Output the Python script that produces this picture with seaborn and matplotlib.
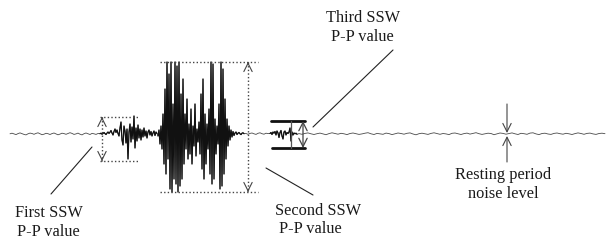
import numpy as np
import pandas as pd
import matplotlib
matplotlib.use("Agg")
import matplotlib.pyplot as plt
import seaborn as sns

# ---------------- data (amplitude, arbitrary units; sampled segments) ----------------
rest1_start, rest1_step = 10, 2
rest1 = [0.2, 0.8, 0.1, -0.6, 0.4, 1.1, 0.3, -0.4, -0.9, 0.2,
         0.9, 0.5, -0.3, 0.6, 1.2, 0.2, -0.7, -0.2, 0.7, 0.3,
         -0.5, 0.4, 1.0, 0.1, -0.8, -0.1, 0.8, 0.4, -0.3, 0.5,
         1.3, 0.6, -0.4, 0.1, 0.9, -0.2, -0.9, 0.3, 1.0, 0.2,
         -0.5, 0.6, 0.2, -0.4, 0.5]

ssw1_start, ssw1_step = 100, 1
ssw1 = [0.3, 0.8, -0.2, 0.5, 1.5, 0.4, -0.5, 0.9, 2.0, 0.6,
        1.8, 3.5, 1.0, -1.0, 2.5, 5.0, 1.5, 4.0, 0.5, -2.0,
        6.0, 12.0, -6.0, -11.0, 8.0, 3.0, -9.0, 5.0, -25.0, 2.0,
        10.0, -8.0, 7.0, -5.0, 18.0, -14.0, 6.0, -7.0, 9.0, -4.0,
        5.0, -6.0, 4.0, -3.0, 6.0, -2.0, 3.0, -4.0, 2.0, 4.0,
        -1.0, 2.5, -2.0, 1.0, 3.0, -1.5, 2.0, 0.5]

ssw2_start, ssw2_step = 158, 1
ssw2 = [-2, 4, -10, 8, -15, 20, -30, 45, -40, 72,
        -25, 60, -55, 72, -58, 30, -45, 72, -50, 68,
        -58, 72, -52, 40, -45, 55, -30, 20, -15, 35,
        -25, 10, -20, 25, -30, 8, -12, 30, -22, 5,
        -8, 12, -20, 40, -35, 55, -45, 20, -30, 10,
        -15, 25, -40, 72, -50, 70, -45, 15, -20, 8,
        -10, 30, -55, 72, -52, 65, -40, 35, -25, 15,
        -12, 8, -6, 4, -3, 2.5, -1.5, 1.0, 2.0, -0.5,
        0.8, 1.5, 0.2, -0.6, 0.8, 1.2, 0.3]

rest2a_start, rest2a_step = 246, 2
rest2a = [0.5, -0.3, 0.6, 1.0, 0.2, -0.4, 0.7, 1.2, 0.3, -0.2, 0.8, 0.4]

ssw3_start, ssw3_step = 270, 1
ssw3 = [0.5, 1.5, -0.5, 2.0, 0.8, 2.5, -1.0, 3.0, 1.0, -3.5,
        1.5, 3.5, -2.0, -5.0, 2.0, 3.0, -1.0, 1.5, 0.5, 2.0,
        6.0, -7.0, 2.0, -1.0, 1.0, 0.2, 0.8, -0.3]

rest2b_start, rest2b_step = 299, 3
rest2b = [0.4, -0.3, 0.6, 1.1, 0.2, -0.5, 0.3, 0.9, 0.1, -0.7,
          0.4, 1.2, 0.5, -0.2, 0.7, 0.2, -0.6, 0.5, 1.0, 0.3,
          -0.4, 0.1, 0.8, 1.3, 0.2, -0.5, 0.6, 0.1, -0.3, 0.9,
          0.4, -0.6, 0.2, 1.0, 0.5, -0.2, 0.7, 1.1, 0.0, -0.8,
          0.3, 0.8, 0.2, -0.4, 0.6, 1.2, 0.4, -0.3, 0.5, 0.1,
          -0.6, 0.7, 1.0, 0.2, -0.5, 0.4, 0.9, -0.1, 0.6, 1.3,
          0.3, -0.4, 0.2, 0.8, 0.5, -0.7, 0.1, 1.0, 0.6, -0.2,
          0.4, 1.1, 0.2, -0.5, 0.7, 0.3, -0.3, 0.9, 1.2, 0.1,
          -0.6, 0.5, 0.8, 0.0, -0.4, 0.6, 1.0, 0.3, -0.2, 0.7,
          0.2, -0.5, 0.4, 1.1, 0.5, -0.3, 0.6, 0.9, 0.1, -0.4,
          0.5, 0.8, 0.3]

labels = ["First SSW\nP-P value", "Second SSW\nP-P value",
          "Third SSW\nP-P value", "Resting period\nnoise level"]

segments = [("rest", rest1_start, rest1_step, rest1), ("ssw", ssw1_start, ssw1_step, ssw1),
            ("ssw", ssw2_start, ssw2_step, ssw2), ("rest", rest2a_start, rest2a_step, rest2a),
            ("ssw", ssw3_start, ssw3_step, ssw3), ("rest", rest2b_start, rest2b_step, rest2b)]
rows = []
for i, (kind, start, step, vals) in enumerate(segments):
    for t, v in zip(start + step * np.arange(len(vals)), vals):
        rows.append((t, v, kind, i))
df = pd.DataFrame(rows, columns=["time", "amplitude", "kind", "seg"])

# ---------------- figure ----------------
sns.set_theme(style="white")
plt.rcParams["font.family"] = ["Liberation Serif", "DejaVu Serif"]

fig = plt.figure(figsize=(6.11, 2.4), dpi=100)
ax = fig.add_axes([0, 0, 1, 1])
# full trace (thin grey), then bursts emphasised in black
sns.lineplot(data=df, x="time", y="amplitude", estimator=None, sort=False,
             color="#4a4a4a", lw=0.6, ax=ax)
burst = df[df["kind"] == "ssw"]
sns.lineplot(data=burst, x="time", y="amplitude", units="seg", estimator=None, sort=False,
             color="#111111", lw=0.9, ax=ax)
ax.set_xlim(0, 611)
ax.set_ylim(-106, 134)
ax.set_axis_off()

# overlay axes in pixel coordinates for annotations
an = fig.add_axes([0, 0, 1, 1])
an.set_xlim(0, 611)
an.set_ylim(240, 0)
an.set_axis_off()
an.patch.set_alpha(0)

dot = dict(color="#444444", lw=1.0, linestyle=(0, (1, 1.6)))
head = dict(arrowstyle="->,head_length=0.5,head_width=0.25", lw=0.8, color="#444444",
            shrinkA=0, shrinkB=0)


def dotted_arrow(x, y1, y2):
    an.plot([x, x], [y1, y2], **dot)
    an.annotate("", xy=(x, y1), xytext=(x, y1 + 1), arrowprops=head)
    an.annotate("", xy=(x, y2), xytext=(x, y2 - 1), arrowprops=head)


# First SSW
an.plot([100, 138], [117, 117], **dot)
an.plot([100, 138], [161, 161], **dot)
dotted_arrow(102, 117, 161)
an.plot([51, 92], [194, 147], color="#222222", lw=0.8)

# Second SSW
an.plot([160, 258], [62, 62], **dot)
an.plot([160, 258], [192, 192], **dot)
dotted_arrow(248, 62, 192)
an.plot([266, 313], [168, 195], color="#222222", lw=0.8)

# Third SSW
an.plot([271, 305], [121, 121], color="#111111", lw=2.0)
an.plot([272, 305], [148, 148], color="#111111", lw=2.0)
an.plot([291, 291], [121, 148], color="#555555", lw=0.9)
an.annotate("", xy=(303, 121), xytext=(303, 148),
            arrowprops=dict(arrowstyle="<->,head_length=0.5,head_width=0.25",
                            lw=0.9, color="#444444", shrinkA=0, shrinkB=0))
an.plot([313, 393], [127, 50], color="#222222", lw=0.8)

# Resting noise
an.annotate("", xy=(507, 133), xytext=(507, 104), arrowprops=head)
an.annotate("", xy=(507, 136), xytext=(507, 162), arrowprops=head)

tk = dict(fontsize=11.8, color="#1a1a1a", ha="center", va="center")
l1, l2 = labels[0].split("\n")
an.text(49, 213, l1, **tk); an.text(48, 232, l2, **tk)
l1, l2 = labels[1].split("\n")
an.text(318, 211, l1, **tk); an.text(310, 229, l2, **tk)
l1, l2 = labels[2].split("\n")
an.text(363, 18, l1, **tk); an.text(362, 37, l2, **tk)
l1, l2 = labels[3].split("\n")
an.text(503, 175, l1, **tk); an.text(503, 194, l2, **tk)

fig.savefig("out.png", dpi=100)
